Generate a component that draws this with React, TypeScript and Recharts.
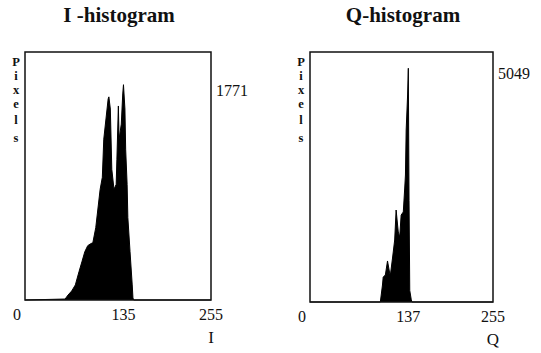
import { AreaChart, Area, XAxis, YAxis, ReferenceArea, ReferenceLine } from 'recharts';

// I channel: grey level -> pixel count
const iLevels = [0, 55, 59, 64, 69, 74, 78, 82, 86, 90, 93, 97, 103, 106, 108, 111, 114, 115, 117, 119, 122, 125, 126, 128, 129, 132, 134, 135, 137, 138, 140, 141, 144, 147, 148, 149, 255];
const iCounts = [0, 8, 41, 74, 124, 232, 314, 397, 447, 463, 471, 595, 910, 1009, 1323, 1489, 1654, 1671, 1571, 1075, 910, 951, 1158, 1596, 1323, 1447, 1695, 1771, 1571, 1241, 951, 678, 397, 124, 17, 0, 0];

// Q channel
const qLevels = [0, 98, 101, 102, 105, 108, 111, 112, 115, 118, 120, 123, 125, 127, 130, 132, 133, 134, 136, 137, 138, 139, 141, 142, 255];
const qCounts = [0, 0, 367, 540, 583, 886, 626, 583, 950, 1339, 1987, 1512, 1404, 1879, 1944, 2462, 2743, 3715, 4471, 5049, 2200, 250, 60, 0, 0];

const iTicks = [0, 135, 255];
const qTicks = [0, 137, 255];
const iPeak = 1771;
const qPeak = 5049;
const yLetters = ['P', 'i', 'x', 'e', 'l', 's'];

const FONT = '"Liberation Serif", "Times New Roman", serif';
const letterOffsets = [14, 28, 42, 56, 72, 90];

interface PanelProps {
  levels: number[];
  counts: number[];
  ticks: number[];
  peak: number;
  yMax: number;
  axisName: string;
  left: number;
  width: number;
  plotLeft: number;
  plotRight: number;
  plotBottom: number;
}

function Panel({ levels, counts, ticks, peak, yMax, axisName, left, width, plotLeft, plotRight, plotBottom }: PanelProps) {
  const data = levels.map((level, i) => ({ level, count: counts[i] }));
  const height = 353;
  const top = 52;

  const XTick = (props: any) => {
    const v = props.payload.value;
    const dx = v === 0 ? -8 : 0;
    return (
      <text x={props.x + dx} y={plotBottom + 20} textAnchor="middle" fontFamily={FONT} fontSize={16} fill="#111">
        {v}
      </text>
    );
  };

  const PeakLabel = (props: any) => (
    <text x={plotRight + 5} y={props.viewBox.y + 5.5} dominantBaseline="central" fontFamily={FONT} fontSize={16} fill="#111">
      {peak}
    </text>
  );

  // stacked letters, one text element
  const PixelsLabel = () => (
    <text textAnchor="middle" fontFamily={FONT} fontWeight="bold" fontSize={12.5} fill="#111">
      {yLetters.map((ch, i) => (
        <tspan key={i} x={plotLeft - 9} y={top + letterOffsets[i]}>
          {ch}
        </tspan>
      ))}
    </text>
  );

  const AxisName = () => (
    <text x={plotRight} y={plotBottom + 43} textAnchor="middle" fontFamily={FONT} fontSize={17} fill="#111">
      {axisName}
    </text>
  );

  return (
    <div style={{ position: 'absolute', left, top: 0 }}>
      <AreaChart width={width} height={height} data={data} margin={{ top, right: width - plotRight, bottom: 0, left: 0 }}>
        <XAxis
          dataKey="level"
          type="number"
          domain={[0, 255]}
          ticks={ticks}
          interval={0}
          tickLine={false}
          axisLine={false}
          height={height - plotBottom}
          tick={<XTick />}
          label={{ content: <AxisName /> }}
        />
        <YAxis yAxisId="l" width={plotLeft} domain={[0, yMax]} tick={false} tickLine={false} axisLine={false} label={{ content: <PixelsLabel /> }} />
        <Area
          yAxisId="l"
          type="linear"
          dataKey="count"
          stroke="#000"
          strokeWidth={1}
          fill="#000"
          fillOpacity={1}
          isAnimationActive={false}
        />
        <ReferenceArea yAxisId="l" x1={0} x2={255} y1={0} y2={yMax} fill="none" stroke="#111" strokeWidth={1.5} ifOverflow="visible" />
        <ReferenceLine yAxisId="l" y={peak} stroke="none" ifOverflow="visible" label={{ content: <PeakLabel /> }} />
      </AreaChart>
    </div>
  );
}

const titleStyle = (cx: number): React.CSSProperties => ({
  position: 'absolute',
  left: cx - 100,
  top: 5,
  width: 200,
  textAlign: 'center',
  fontFamily: FONT,
  fontWeight: 'bold',
  fontSize: 21,
  lineHeight: '21px',
  color: '#111',
});

export default function App() {
  return (
    <div style={{ position: 'absolute', left: 0, top: 0, width: 541, height: 353, background: '#fff', overflow: 'hidden' }}>
      <div style={titleStyle(119)}>I -histogram</div>
      <div style={titleStyle(403)}>Q-histogram</div>
      <Panel levels={iLevels} counts={iCounts} ticks={iTicks} peak={iPeak} yMax={2040} axisName="I"
        left={0} width={270} plotLeft={25} plotRight={211} plotBottom={300} />
      <Panel levels={qLevels} counts={qCounts} ticks={qTicks} peak={qPeak} yMax={5400} axisName="Q"
        left={270} width={271} plotLeft={40} plotRight={223} plotBottom={302} />
    </div>
  );
}
